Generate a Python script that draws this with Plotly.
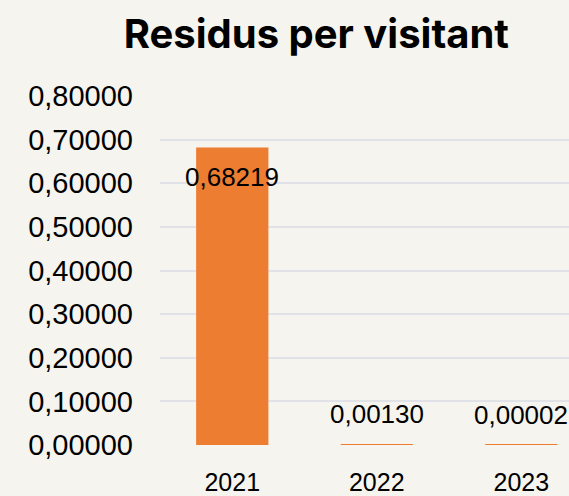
import plotly.graph_objects as go

# dades
anys = ["2021", "2022", "2023"]
residus = [0.68219, 0.00130, 0.00002]
ticks_y = [0.0, 0.1, 0.2, 0.3, 0.4, 0.5, 0.6, 0.7, 0.8]

BG = "#F5F4EE"
TARONJA = "#ED7D31"


def fmt(v):
    return f"{v:.5f}".replace(".", ",")


fig = go.Figure()
fig.add_trace(go.Bar(x=anys, y=residus, marker=dict(color=TARONJA, line=dict(width=0)),
                     width=0.5, hoverinfo="skip"))

# etiquetes de dades (x per índex de categoria)
for i, v in enumerate(residus):
    dins = v > 0.1
    fig.add_annotation(x=i, y=v, text=fmt(v), showarrow=False, yanchor="middle",
                       yshift=-30 if dins else 30,
                       font=dict(family="Liberation Sans, Arial", size=26, color="#000000"))

fig.update_layout(
    width=569, height=496,
    paper_bgcolor=BG, plot_bgcolor=BG,
    margin=dict(l=160, r=0, t=96, b=46),
    separators=",.",
    showlegend=False,
    title=dict(text="<b>Residus per visitant</b>", x=0.556, xanchor="center",
               y=1 - 34 / 496, yanchor="middle",
               font=dict(family="Inter, Liberation Sans", size=40, color="#000000")),
    xaxis=dict(type="category", range=[-0.5, 2.33], showgrid=False, zeroline=False,
               showline=False, ticks="", ticklabelstandoff=20,
               tickfont=dict(family="Liberation Sans, Arial", size=25, color="#000000")),
    yaxis=dict(range=[0, 0.8], tickvals=ticks_y, tickformat=".5f", showgrid=True,
               gridcolor="#E0E2E8", gridwidth=2, zeroline=False, showline=False,
               ticks="", ticklabelstandoff=26,
               tickfont=dict(family="Liberation Sans, Arial", size=29, color="#000000")),
)

fig.write_html("out.html", config={"displayModeBar": False},
               post_script="document.body.style.margin='0';document.body.style.overflow='hidden';")
